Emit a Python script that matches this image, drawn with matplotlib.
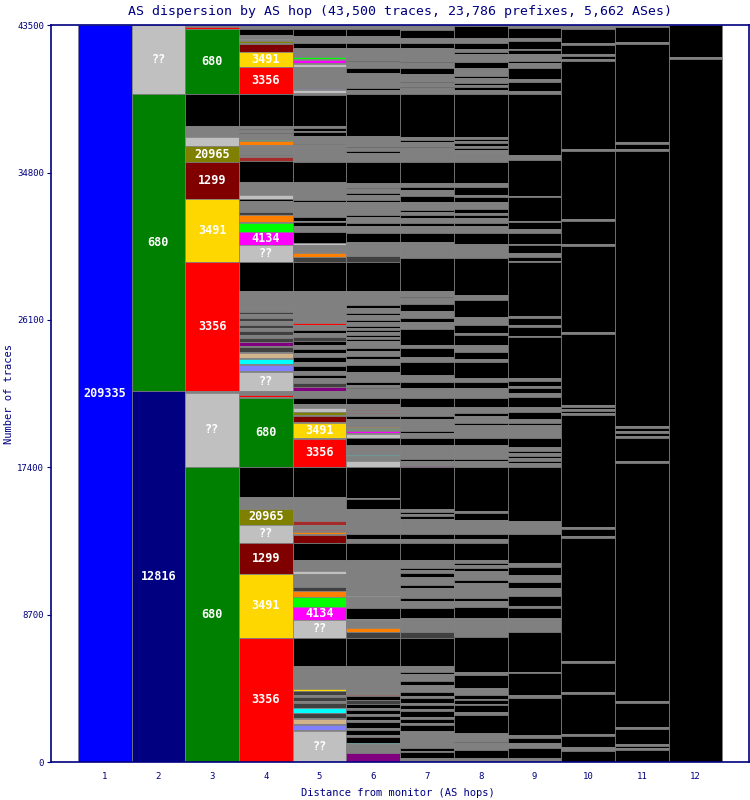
import matplotlib.pyplot as plt
import numpy as np

TOTAL = 43500

# segments of each AS hop, listed from the top of the column down
hop1_as = ['209335']
hop1_traces = [43500]

hop2_as = ['??', '680', '12816']
hop2_traces = [4070, 17530, 21900]

hop3_as = ['oth', '3356', '680', 'end', 'oth', '??', '20965', '1299', '3491', '3356',
           'oth', '??', '680']
hop3_traces = [118, 118, 3835, 1888, 649, 531, 944, 2183, 3717, 7611,
               118, 4366, 17422]

hop4_as = ['oth', 'end', 'oth', '??', 'oth', '20965', 'oth', '1299', '3491', '3356',
           'end', 'oth', 'end', 'oth', 'end', 'oth',
           'lim', 'orn', 'oth', 'dk', 'oth', 'brn',
           'end', 'oth', '??',
           'end', 'oth', 'dk', 'orn', 'oth', 'lim', '4134', '??',
           'end', 'oth',
           'oth', 'dk', 'oth', 'dk', 'oth', 'dk', 'oth', 'dk', 'oth', 'dk',
           'pur', 'oth', 'dk', 'oth', 'tan', 'oth', 'cyn', 'oth', 'slb', 'oth', '??',
           'oth', '3356', 'oth', '680',
           'end', 'oth', '20965', '??', '1299', '3491', '3356']
hop4_traces = [236, 354, 236, 59, 59, 118, 59, 472, 885, 1593,
               1888, 177, 59, 177, 59, 354,
               59, 236, 590, 59, 59, 236,
               1239, 767, 236,
               118, 649, 177, 413, 59, 531, 767, 1003,
               1711, 1003,
               236, 118, 236, 177, 236, 177, 177, 236, 177, 236,
               236, 59, 295, 59, 295, 59, 295, 59, 354, 59, 1121,
               236, 118, 59, 4071,
               1770, 708, 944, 1062, 1829, 3776, 7316]

hop5_as = ['oth', 'end', 'oth', 'end', 'oth', 'lim', 'oth', '4134', 'oth', '??', 'oth', 'slb', '??', 'oth',
           'end', 'oth', 'end', 'oth', 'end', 'oth', 'dk', 'oth',
           'end', 'oth', 'end', 'oth', 'end', '??', 'end', 'oth', 'end', '??', 'oth', 'orn', 'dk',
           'end', 'oth', '3356',
           'oth', 'end', 'oth', 'dk', 'end', 'oth', 'end', 'oth', 'end', 'oth', 'end', 'oth', 'end', 'oth', 'dk',
           'pur', 'oth', 'end', 'oth', '??', '20965', 'oth', '1299', 'oth', '3491', 'oth', '3356',
           'end', 'oth', 'brn', 'oth', '3356', 'oth', 'orn', 'oth', '1299',
           'end', 'oth', '??', 'oth', 'dk', 'orn', 'lim', '4134', '??',
           'end', 'oth', '3491', 'dk', 'oth', 'dk', 'oth', 'dk', 'cyn', 'dk', 'oth', 'tan', 'oth', 'slb', 'oth', '??']
hop5_traces = [236, 413, 413, 295, 531, 118, 59, 177, 59, 177, 1298, 59, 177, 118,
               1829, 118, 177, 59, 236, 472, 59, 1003,
               1180, 1062, 118, 885, 236, 59, 236, 354, 649, 118, 472, 236, 295,
               1711, 1888, 118,
               295, 177, 236, 236, 236, 236, 236, 236, 295, 236, 295, 236, 177, 295, 236,
               236, 413, 354, 236, 236, 177, 59, 354, 59, 885, 59, 1652,
               1770, 1416, 236, 295, 59, 59, 118, 59, 472,
               1003, 649, 177, 767, 236, 354, 590, 767, 1062,
               1652, 1357, 118, 236, 118, 236, 118, 295, 295, 295, 59, 295, 59, 295, 59, 1829]

hop6_as = ['oth', 'end', 'oth', 'end', 'oth', 'end', 'oth', 'end', 'oth', 'end', 'oth',
           'end', 'oth', 'end', 'oth', 'end', 'oth',
           'end', 'oth', 'end', 'oth', 'end', 'oth', 'end', 'oth', 'end', 'oth', 'end', 'oth', 'end', 'oth', 'dk',
           'end', 'oth', 'end', 'oth', 'end', 'oth', 'end', 'oth',
           'end', 'oth', 'end', 'oth', 'end', 'oth', 'end', 'oth',
           'oth', 'end', 'oth', 'end', 'oth', 'end', 'oth', 'end', 'oth', 'end', 'oth',
           'end', 'oth', 'brn', 'oth', 'brn', 'oth', 'end', 'oth', 'orn', 'oth', 'lim', 'oth', '4134', 'oth', '??',
           'end', 'oth', 'cyn', 'oth', '??',
           'end', 'oth', 'end', 'oth', 'end', 'oth', 'end',
           'oth', '??', 'oth', 'end', '??', 'oth', 'orn', 'dk',
           'end', 'oth', 'oth', '3356', 'end', 'dk', 'end', 'oth', 'end', 'oth', 'end', 'oth', 'end', 'oth',
           'end', 'oth', 'end', 'cyn', 'oth', 'pur']
hop6_traces = [236, 413, 413, 295, 767, 59, 354, 295, 885, 118, 236,
               2478, 649, 59, 177, 118, 531,
               1239, 295, 59, 236, 118, 295, 118, 767, 118, 354, 177, 413, 531, 826, 354,
               1711, 826, 177, 295, 118, 295, 118, 236,
               118, 118, 118, 177, 118, 118, 118, 118,
               295, 177, 295, 177, 354, 413, 590, 177, 177, 59, 531,
               354, 354, 59, 118, 59, 118, 177, 472, 59, 59, 59, 59, 118, 59, 236,
               413, 590, 59, 295, 354,
               1829, 59, 590, 1475, 295, 236, 1003,
               2124, 59, 649, 649, 59, 472, 236, 354,
               1652, 1534, 177, 59, 236, 236, 236, 118, 236, 118, 236, 118, 354, 118,
               295, 118, 354, 59, 531, 531]

hop7_as = ['oth', 'end', 'oth', 'end', 'oth', 'end', 'oth', 'end', 'oth', 'end', 'oth', 'end', 'oth',
           'end', 'oth', 'end', 'oth', 'end', 'oth',
           'end', 'oth', 'end', 'oth', 'end', 'oth', 'end', 'oth', 'end', 'oth', 'end', 'oth', 'end', 'oth',
           'end', 'oth', 'end', 'oth', 'end', 'oth', 'end', 'oth', 'end', 'oth', 'end', 'oth', 'end', 'oth',
           'end', 'oth',
           'end', 'oth', 'end', 'oth', 'end', 'oth', 'end', 'oth', 'end', 'oth', 'pur',
           'end', 'oth', 'end', 'oth', 'end', 'oth', 'end', 'oth', 'end', 'oth', 'end', 'oth', 'end', 'oth',
           'end', 'oth', 'end', 'oth', 'end', 'oth', 'dk',
           'end', 'oth', 'end', 'oth', 'end', 'oth',
           'end', 'oth', 'end', 'oth', 'end', 'oth', 'end', 'oth', 'end', 'oth', 'end', 'oth',
           'oth', 'end', 'oth', 'end', 'oth']
hop7_traces = [295, 472, 295, 295, 826, 59, 295, 354, 472, 59, 236, 59, 354,
               2537, 177, 118, 295, 59, 826,
               1239, 236, 177, 354, 354, 472, 118, 177, 177, 295, 177, 413, 531, 944,
               1947, 354, 59, 354, 413, 413, 236, 413, 944, 177, 531, 295, 767, 413,
               354, 590,
               531, 531, 177, 708, 118, 295, 413, 826, 118, 295, 59,
               2478, 177, 118, 118, 177, 885, 295, 236, 1003, 472, 118, 177, 236, 472,
               177, 590, 177, 413, 590, 826, 354,
               1652, 354, 118, 413, 236, 413,
               236, 118, 295, 118, 236, 118, 354, 118, 236, 118, 354, 118,
               885, 177, 59, 354, 236]

hop8_as = ['oth', 'end', 'oth', 'end', 'oth', 'end', 'oth', 'end', 'oth', 'end', 'oth', 'end', 'oth', 'end', 'oth',
           'end', 'oth', 'end', 'oth', 'end', 'oth', 'end', 'oth', 'oth',
           'end', 'oth', 'end', 'oth', 'end', 'oth', 'end', 'oth', 'end', 'oth', 'end', 'oth', 'end', 'oth',
           'end', 'oth', 'end', 'oth', 'end', 'oth', 'end', 'oth', 'end', 'oth', 'end', 'oth', 'end', 'oth',
           'end', 'oth', 'end', 'oth', 'end', 'oth', 'end', 'oth', 'end', 'oth',
           'end', 'oth', 'end', 'oth', 'end', 'oth', 'end', 'oth', 'end', 'oth', 'end', 'oth', 'end', 'oth',
           'end', 'oth', 'end', 'oth',
           'end', 'oth', 'end', 'oth', 'end', 'oth', 'end', 'oth', 'end', 'oth', 'end', 'oth', 'end', 'oth',
           'end', 'oth']
hop8_traces = [59, 708, 295, 354, 177, 118, 472, 354, 472, 118, 295, 118, 118, 177, 236,
               2537, 118, 118, 118, 177, 118, 118, 118, 590,
               1239, 236, 472, 118, 295, 413, 236, 118, 177, 295, 177, 413, 649, 826,
               2183, 295, 1003, 472, 472, 118, 590, 413, 413, 177, 944, 236, 354, 590,
               531, 354, 177, 413, 118, 767, 413, 826, 118, 354,
               2596, 118, 413, 826, 295, 236, 1003, 177, 118, 177, 177, 531, 177, 885,
               177, 354, 649, 1121,
               2065, 177, 767, 413, 236, 59, 236, 59, 413, 177, 1062, 531, 59, 413,
               472, 236]

hop9_as = ['oth', 'end', 'oth', 'end', 'oth', 'end', 'oth', 'end', 'oth', 'end', 'oth', 'end', 'oth',
           'end', 'oth', 'end', 'oth', 'end', 'oth', 'end', 'oth', 'end', 'oth', 'end', 'oth', 'end', 'oth',
           'end', 'oth', 'end', 'oth', 'end', 'oth', 'end', 'oth', 'end', 'oth', 'end', 'oth', 'end', 'oth',
           'end', 'oth', 'end', 'oth', 'end',
           'oth', 'end', 'oth', 'end', 'oth', 'end', 'oth',
           'end', 'oth', 'end', 'oth', 'end', 'oth', 'end', 'oth', 'end', 'oth', 'end', 'oth',
           'end', 'oth', 'end', 'oth', 'end', 'oth', 'end', 'oth', 'end', 'oth']
hop9_traces = [177, 590, 177, 472, 59, 236, 413, 118, 295, 649, 177, 531, 177,
               3599, 295, 2124, 59, 1416, 59, 413, 236, 649, 59, 472, 236, 236, 59,
               3186, 118, 413, 118, 531, 59, 2419, 177, 295, 118, 295, 236, 590, 295,
               413, 236, 118, 767, 531,
               236, 118, 177, 118, 177, 118, 236,
               3186, 767, 1711, 236, 472, 413, 354, 472, 590, 118, 590, 826,
               2360, 59, 1298, 177, 2183, 177, 295, 295, 590, 236]

hop10_as = ['oth', 'end', 'oth', 'end', 'oth', 'end', 'oth', 'end', 'oth', 'end', 'oth', 'end', 'oth', 'end',
            'oth', 'end', 'oth', 'end', 'oth', 'end', 'oth', 'end', 'oth', 'end', 'oth', 'end', 'oth', 'end',
            'oth', 'end', 'oth', 'end', 'oth', 'end']
hop10_traces = [236, 826, 118, 531, 118, 177, 118, 5192, 118, 4012, 118, 1357, 118, 5074,
                118, 4189, 118, 118, 118, 118, 118, 6608, 118, 413, 118, 7257, 118, 1711,
                118, 2360, 118, 649, 236, 649]

hop11_as = ['oth', 'end', 'oth', 'end', 'oth', 'end', 'oth', 'end', 'oth', 'end', 'oth', 'end', 'oth',
            'end', 'oth', 'end', 'oth', 'end', 'oth', 'end', 'oth', 'end', 'oth', 'end']
hop11_traces = [118, 885, 118, 5782, 118, 295, 118, 16225, 118, 177, 118, 177, 118,
                1357, 118, 14042, 118, 1416, 118, 885, 118, 118, 118, 708]

hop12_as = ['end', 'oth', 'end']
hop12_traces = [1888, 118, 41494]

hops = [(hop1_as, hop1_traces), (hop2_as, hop2_traces), (hop3_as, hop3_traces),
        (hop4_as, hop4_traces), (hop5_as, hop5_traces), (hop6_as, hop6_traces),
        (hop7_as, hop7_traces), (hop8_as, hop8_traces), (hop9_as, hop9_traces),
        (hop10_as, hop10_traces), (hop11_as, hop11_traces), (hop12_as, hop12_traces)]

# colour of each AS; 'end' = trace stopped, 'oth' = small ASes
as_colors = {'209335': '#0000ff', '12816': '#000080', '680': '#008000', '3356': '#ff0000',
             '3491': '#ffd700', '1299': '#800000', '20965': '#808000', '4134': '#ff00ff',
             '??': '#c0c0c0', 'end': '#000000', 'oth': '#808080', 'dk': '#404040',
             'orn': '#ff8000', 'lim': '#00ff00', 'pur': '#800080', 'tan': '#d2b48c',
             'cyn': '#00ffff', 'slb': '#8080ff', 'brn': '#a52a2a'}
navy = '#000080'
mono = 'DejaVu Sans Mono'

fig = plt.figure(figsize=(7.5, 8), dpi=100)
ax = fig.add_axes([0.068, 0.0475, 0.931, 0.921])

for hop, (names, counts) in enumerate(hops, start=1):
    counts = np.array(counts)
    bottoms = TOTAL - np.cumsum(counts)
    ax.bar(hop, counts, bottom=bottoms, width=1.0,
           color=[as_colors[n] for n in names], edgecolor='#808080', linewidth=0.5)
    for n, c, b in zip(names, counts, bottoms):
        if (n.isdigit() or n == '??') and c >= 600:
            ax.text(hop, b + c / 2, n, ha='center', va='center', color='white',
                    fontsize=8.5, fontweight='bold', family=mono)

ax.set_xlim(0, 13)
ax.set_ylim(0, TOTAL)
ax.set_xticks(range(1, 13))
ax.set_yticks([0, 8700, 17400, 26100, 34800, 43500])
ax.tick_params(axis='x', length=0, pad=7, labelsize=6.5, colors=navy)
ax.tick_params(axis='y', length=3, pad=2, labelsize=6.5, colors=navy)
for lab in ax.get_xticklabels() + ax.get_yticklabels():
    lab.set_family(mono)
for s in ax.spines.values():
    s.set_color(navy)
    s.set_linewidth(1.2)

ax.set_title('AS dispersion by AS hop (43,500 traces, 23,786 prefixes, 5,662 ASes)',
             color=navy, family=mono, fontsize=9.5, pad=7)
fig.text(0.53, 0.009, 'Distance from monitor (AS hops)', ha='center', va='center',
         color=navy, family=mono, fontsize=7.5)
ax.set_ylabel('Number of traces', color=navy, family=mono, fontsize=7.5, labelpad=2)

fig.savefig('out.png', dpi=100)
